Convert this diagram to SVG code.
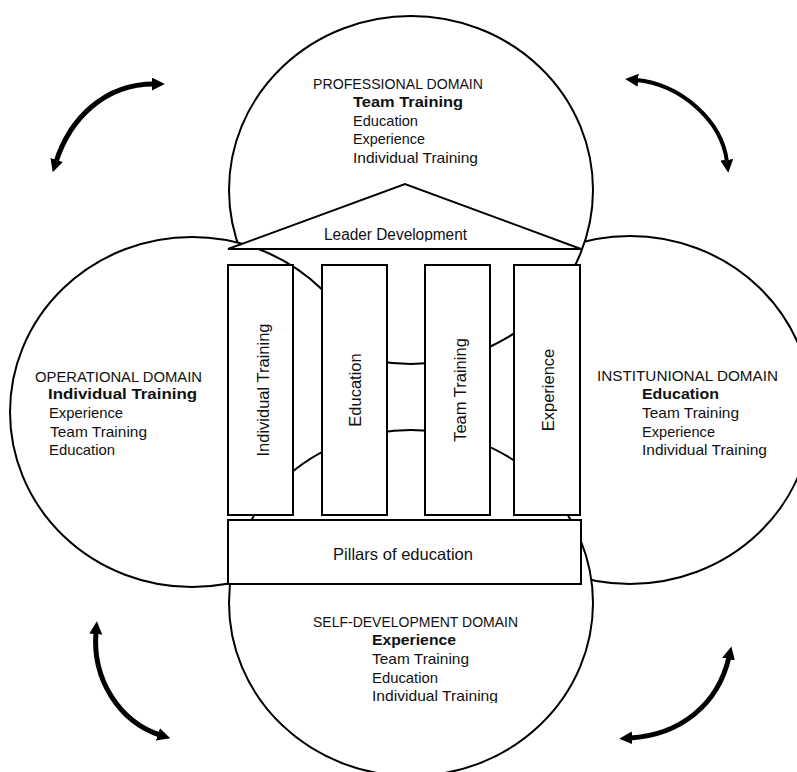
<svg xmlns="http://www.w3.org/2000/svg" width="797" height="772" viewBox="0 0 797 772">
<defs>
<style>
.sh{fill:#fff;stroke:#000;stroke-width:2}
.t{font-family:"Liberation Sans",Arial,sans-serif;font-size:15px;fill:#111}
.b{font-weight:bold}
.p{font-family:"Liberation Sans",Arial,sans-serif;font-size:16.5px;fill:#111;text-anchor:middle}
.ar{fill:none;stroke:#000;stroke-width:5;marker-start:url(#ah);marker-end:url(#ah)}
</style>
<marker id="ah" viewBox="0 0 12 12" markerUnits="userSpaceOnUse" markerWidth="13" markerHeight="13" refX="2" refY="6" orient="auto-start-reverse">
<path d="M0,0 L12,6 L0,12 z" fill="#000"/>
</marker>
<clipPath id="clipLeader"><rect x="300" y="215" width="200" height="26.5"/></clipPath>
<clipPath id="clipSelf"><rect x="360" y="685" width="200" height="18"/></clipPath>
</defs>
<rect width="797" height="772" fill="#fff"/>

<g id="domain-right">
<ellipse class="sh" cx="630" cy="410" rx="182" ry="174"/>
<text class="t" x="597" y="381" textLength="181" lengthAdjust="spacingAndGlyphs">INSTITUNIONAL  DOMAIN</text>
<text class="t b" x="642" y="399" textLength="77" lengthAdjust="spacingAndGlyphs">Education</text>
<text class="t" x="642" y="418" textLength="97" lengthAdjust="spacingAndGlyphs">Team Training</text>
<text class="t" x="642" y="437" textLength="73" lengthAdjust="spacingAndGlyphs">Experience</text>
<text class="t" x="642" y="455" textLength="125" lengthAdjust="spacingAndGlyphs">Individual Training</text>
</g>

<g id="domain-top">
<ellipse class="sh" cx="411" cy="190" rx="182" ry="174"/>
<text class="t" x="313" y="89" textLength="170" lengthAdjust="spacingAndGlyphs">PROFESSIONAL DOMAIN</text>
<text class="t b" x="353" y="107" textLength="110" lengthAdjust="spacingAndGlyphs">Team Training</text>
<text class="t" x="353" y="126" textLength="65" lengthAdjust="spacingAndGlyphs">Education</text>
<text class="t" x="353" y="144" textLength="72" lengthAdjust="spacingAndGlyphs">Experience</text>
<text class="t" x="353" y="163" textLength="125" lengthAdjust="spacingAndGlyphs">Individual Training</text>
</g>

<g id="domain-left">
<ellipse class="sh" cx="192" cy="412" rx="182" ry="175"/>
<text class="t" x="35" y="382" textLength="167" lengthAdjust="spacingAndGlyphs">OPERATIONAL  DOMAIN</text>
<text class="t b" x="48" y="399" textLength="149" lengthAdjust="spacingAndGlyphs">Individual Training</text>
<text class="t" x="49" y="418" textLength="74" lengthAdjust="spacingAndGlyphs">Experience</text>
<text class="t" x="50" y="437" textLength="97" lengthAdjust="spacingAndGlyphs">Team Training</text>
<text class="t" x="49" y="455" textLength="66" lengthAdjust="spacingAndGlyphs">Education</text>
</g>

<g id="domain-bottom">
<ellipse class="sh" cx="411" cy="603" rx="182" ry="173"/>
<text class="t" x="313" y="627" textLength="205" lengthAdjust="spacingAndGlyphs">SELF-DEVELOPMENT DOMAIN</text>
<text class="t b" x="372" y="645" textLength="84" lengthAdjust="spacingAndGlyphs">Experience</text>
<text class="t" x="372" y="664" textLength="97" lengthAdjust="spacingAndGlyphs">Team Training</text>
<text class="t" x="372" y="683" textLength="66" lengthAdjust="spacingAndGlyphs">Education</text>
<text class="t" x="372" y="701" textLength="126" lengthAdjust="spacingAndGlyphs" clip-path="url(#clipSelf)">Individual Training</text>
</g>

<g id="roof">
<polygon class="sh" points="228,249 405,184 581,249"/>
<text class="t" x="324" y="240" style="font-size:16px" textLength="143" lengthAdjust="spacingAndGlyphs" clip-path="url(#clipLeader)">Leader Development</text>
</g>

<g id="pillar-individual-training">
<rect class="sh" x="228" y="265" width="65" height="250"/>
<text class="p" transform="translate(269,390) rotate(-90)">Individual Training</text>
</g>
<g id="pillar-education">
<rect class="sh" x="322" y="265" width="65" height="250"/>
<text class="p" transform="translate(361,390) rotate(-90)">Education</text>
</g>
<g id="pillar-team-training">
<rect class="sh" x="425" y="265" width="65" height="250"/>
<text class="p" transform="translate(466,390) rotate(-90)">Team Training</text>
</g>
<g id="pillar-experience">
<rect class="sh" x="514" y="265" width="66" height="250"/>
<text class="p" transform="translate(554,390) rotate(-90)">Experience</text>
</g>

<g id="base">
<rect class="sh" x="228" y="520" width="353" height="64"/>
<text class="t" x="333" y="560" style="font-size:16.5px" textLength="140" lengthAdjust="spacingAndGlyphs">Pillars of education</text>
</g>

<g id="connectors">
<path class="ar" d="M56,162 C70,118 105,84 154,84"/>
<path class="ar" style="stroke-width:4" d="M636,80 C680,84 722,120 727,162"/>
<path class="ar" d="M96,632 C92,680 120,722 160,735"/>
<path class="ar" d="M630,738 C680,735 718,705 729,657"/>
</g>
</svg>
